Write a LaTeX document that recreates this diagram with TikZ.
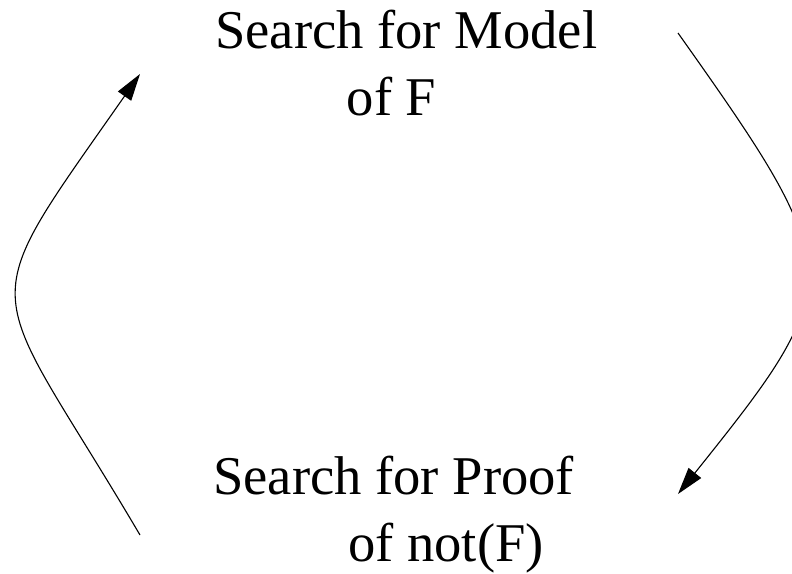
\documentclass[tikz,border=0pt]{standalone}
\usepackage{fontspec}
\setmainfont{Liberation Serif}
\usetikzlibrary{arrows.meta}
\begin{document}
\begin{tikzpicture}[x=1pt,y=-1pt,
  lbl/.style={anchor=base west, inner sep=0pt, font=\fontsize{54.6}{64}\selectfont},
  conn/.style={line width=1.1pt, -{Triangle[length=27pt,width=16pt]}}]
\useasboundingbox (0,0) rectangle (792,573);
\node[lbl] (m1) at (215,48) {Search for Model};
\node[lbl] (m2) at (346.5,115) {of F};
\node[lbl] (p1) at (213,494) {Search for Proof};
\node[lbl] (p2) at (348,561) {of not(F)};
\coordinate (ls) at (140,535);
\coordinate (le) at (140,74);
\coordinate (rs) at (678,33);
\coordinate (re) at (678,494);
\draw[conn] (ls) .. controls (-15,272) and (-32,320) .. (le);
\draw[conn] (rs) .. controls (848,273) and (848,282) .. (re);
\end{tikzpicture}
\end{document}
